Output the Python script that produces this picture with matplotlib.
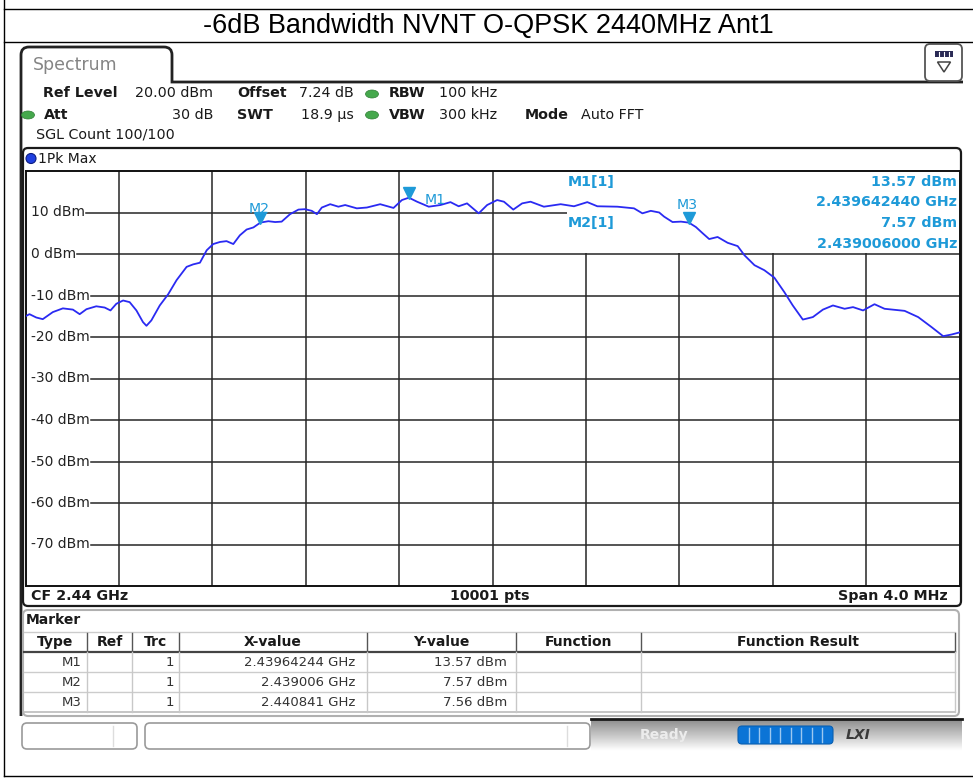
import matplotlib
matplotlib.use("Agg")
import matplotlib.pyplot as plt
import matplotlib.transforms as mtransforms
from matplotlib.patches import FancyBboxPatch, Ellipse, Circle, Rectangle, PathPatch, Polygon
from matplotlib.path import Path
import numpy as np

plt.rcParams["font.family"] = "DejaVu Sans"

W, H = 973, 782

TITLE = "-6dB Bandwidth NVNT O-QPSK 2440MHz Ant1"

# instrument settings
CF_MHZ = 2440.0
SPAN_MHZ = 4.0
REF_LEVEL = 20.0
DB_PER_DIV = 10
N_DIV = 10
N_POINTS = 10001

# 1Pk Max trace (MHz, dBm)
freq_mhz = [
    2438.000, 2438.017, 2438.046, 2438.074, 2438.117, 2438.160, 2438.203, 2438.232,
    2438.261, 2438.303, 2438.339, 2438.364, 2438.389, 2438.418, 2438.446, 2438.475,
    2438.503, 2438.518, 2438.539, 2438.575, 2438.611, 2438.647, 2438.690, 2438.718,
    2438.747, 2438.776, 2438.804, 2438.833, 2438.861, 2438.890, 2438.918, 2438.947,
    2438.976, 2439.006, 2439.040, 2439.069, 2439.097, 2439.133, 2439.169, 2439.197,
    2439.226, 2439.248, 2439.269, 2439.305, 2439.340, 2439.369, 2439.419, 2439.462,
    2439.519, 2439.576, 2439.612, 2439.642, 2439.677, 2439.727, 2439.777, 2439.820,
    2439.855, 2439.891, 2439.941, 2439.977, 2440.020, 2440.049, 2440.089, 2440.127,
    2440.163, 2440.220, 2440.292, 2440.349, 2440.406, 2440.449, 2440.535, 2440.606,
    2440.642, 2440.678, 2440.714, 2440.735, 2440.771, 2440.807, 2440.841, 2440.871,
    2440.900, 2440.928, 2440.964, 2441.007, 2441.050, 2441.079, 2441.122, 2441.164,
    2441.207, 2441.250, 2441.286, 2441.329, 2441.372, 2441.415, 2441.458, 2441.508,
    2441.544, 2441.587, 2441.636, 2441.679, 2441.765, 2441.823, 2441.880, 2441.930,
    2441.966, 2442.000,
]
level_dbm = [
    -15.0, -14.5, -15.3, -15.7, -14.0, -13.1, -13.4, -14.5,
    -13.3, -12.6, -12.9, -13.6, -12.0, -11.2, -11.6, -13.6,
    -16.4, -17.3, -16.0, -12.4, -9.7, -6.3, -3.1, -2.5,
    -2.1, 0.9, 2.4, 2.9, 3.1, 2.4, 4.5, 5.9,
    6.4, 7.57, 7.9, 7.7, 7.8, 9.6, 10.7, 10.8,
    10.4, 9.6, 11.2, 12.0, 11.4, 11.8, 11.0, 11.2,
    12.0, 11.1, 13.0, 13.57, 12.6, 11.4, 11.8, 12.5,
    11.5, 12.2, 9.8, 11.8, 13.0, 12.6, 10.7, 12.2,
    12.6, 11.4, 12.0, 11.5, 12.5, 11.5, 11.4, 11.0,
    9.8, 10.4, 10.0, 9.0, 7.7, 7.8, 7.56, 6.5,
    5.0, 3.6, 4.1, 2.7, 1.9, -0.3, -2.7, -3.9,
    -5.7, -9.2, -12.4, -15.8, -15.2, -13.4, -12.4, -13.2,
    -12.8, -13.6, -12.1, -13.2, -13.7, -15.2, -17.6, -19.8,
    -19.4, -18.9,
]

y_tick_levels = [10, 0, -10, -20, -30, -40, -50, -60, -70]
y_tick_labels = ["10 dBm", "0 dBm", "-10 dBm", "-20 dBm", "-30 dBm",
                 "-40 dBm", "-50 dBm", "-60 dBm", "-70 dBm"]

marker_names = ["M1", "M2", "M3"]
marker_freq_ghz = [2.43964244, 2.439006, 2.440841]
marker_level = [13.57, 7.57, 7.56]
marker_x_text = ["2.43964244 GHz", "2.439006 GHz", "2.440841 GHz"]
marker_y_text = ["13.57 dBm", "7.57 dBm", "7.56 dBm"]
marker_trc = ["1", "1", "1"]

table_headers = ["Type", "Ref", "Trc", "X-value", "Y-value", "Function", "Function Result"]

TRACE_BLUE = "#2a2af2"
MARK_BLUE = "#1e9ad8"
INK = "#1a1a1a"


def rbox(ax, x0, y0, x1, y1, r, **kw):
    p = FancyBboxPatch((x0 + r, y0 + r), x1 - x0 - 2 * r, y1 - y0 - 2 * r,
                       boxstyle=f"round,pad={r}", **kw)
    ax.add_patch(p)
    return p


fig = plt.figure(figsize=(W / 100, H / 100), dpi=100)
fig.patch.set_facecolor("white")

bg = fig.add_axes([0, 0, 1, 1])
bg.set_xlim(0, W)
bg.set_ylim(H, 0)
bg.axis("off")

# report table frame + title
bg.plot([4, W], [9, 9], color="black", lw=1)
bg.plot([4, W], [42, 42], color="black", lw=1)
bg.plot([4, W], [776, 776], color="black", lw=1)
bg.plot([4, 4], [0, 776], color="black", lw=1)
bg.text(488, 25.5, TITLE, ha="center", va="center", fontsize=19.5,
        family="Liberation Sans", color="black")

# spectrum tab
verts = [(21, 716), (21, 55), (21, 47), (29, 47), (164, 47), (172, 47),
         (172, 55), (172, 82), (963, 82)]
codes = [Path.MOVETO, Path.LINETO, Path.CURVE3, Path.CURVE3, Path.LINETO,
         Path.CURVE3, Path.CURVE3, Path.LINETO, Path.LINETO]
bg.add_patch(PathPatch(Path(verts, codes), facecolor="none", edgecolor="#222222", lw=2))
bg.text(33, 65, "Spectrum", ha="left", va="center", fontsize=12.5, color="#858585")

# little menu icon at the right
rbox(bg, 925, 44, 962, 81, 5, facecolor="white", edgecolor="#555555", lw=1.3)
bg.add_patch(Rectangle((935, 51), 18, 6, facecolor="#2a2a55", edgecolor="none"))
for xx in (939, 944, 949):
    bg.plot([xx, xx], [51.5, 56.5], color="white", lw=0.8)
bg.add_patch(Polygon([(937.5, 62), (950.5, 62), (944, 72)], closed=True,
                     facecolor="none", edgecolor="#444444", lw=1.1))

# settings header
HFS = 10.3
bg.text(43, 93, "Ref Level", fontsize=HFS, fontweight="bold", va="center", color=INK)
bg.text(213, 93, f"{REF_LEVEL:.2f} dBm", fontsize=HFS, va="center", ha="right", color=INK)
bg.text(237, 93, "Offset", fontsize=HFS, fontweight="bold", va="center", color=INK)
bg.text(299, 93, "7.24 dB", fontsize=HFS, va="center", color=INK)
bg.text(389, 93, "RBW", fontsize=HFS, fontweight="bold", va="center", color=INK)
bg.text(439, 93, "100 kHz", fontsize=HFS, va="center", color=INK)

bg.text(44, 115, "Att", fontsize=HFS, fontweight="bold", va="center", color=INK)
bg.text(213, 115, "30 dB", fontsize=HFS, va="center", ha="right", color=INK)
bg.text(237, 115, "SWT", fontsize=HFS, fontweight="bold", va="center", color=INK)
bg.text(301, 115, "18.9 µs", fontsize=HFS, va="center", color=INK)
bg.text(389, 115, "VBW", fontsize=HFS, fontweight="bold", va="center", color=INK)
bg.text(439, 115, "300 kHz", fontsize=HFS, va="center", color=INK)
bg.text(525, 115, "Mode", fontsize=HFS, fontweight="bold", va="center", color=INK)
bg.text(581, 115, "Auto FFT", fontsize=HFS, va="center", color=INK)
bg.text(36, 135, "SGL Count 100/100", fontsize=HFS, va="center", color=INK)

for cx, cy in [(372, 94), (28, 115), (372, 115)]:
    bg.add_patch(Ellipse((cx, cy), 13, 8, facecolor="#45a84c", edgecolor="#2f7d35", lw=0.5))

# trace window frame
rbox(bg, 23, 148, 961, 606, 5, facecolor="white", edgecolor="#1a1a1a", lw=1.6)
bg.add_patch(Circle((31, 158.5), 5, facecolor="#1f3fe0", edgecolor="#0b1c80", lw=0.8))
bg.text(38, 159, "1Pk Max", fontsize=10, va="center", color=INK)
bg.text(31, 596, f"CF {CF_MHZ / 1000:.2f} GHz", fontsize=10.3, fontweight="bold",
        va="center", color=INK)
bg.text(490, 596, f"{N_POINTS} pts", fontsize=10.3, fontweight="bold",
        va="center", ha="center", color=INK)
bg.text(948, 596, f"Span {SPAN_MHZ:.1f} MHz", fontsize=10.3, fontweight="bold",
        va="center", ha="right", color=INK)

# marker table
rbox(bg, 23, 610, 959, 716, 5, facecolor="white", edgecolor="#b0b0b0", lw=1.5)
bg.text(26, 620, "Marker", fontsize=10, fontweight="bold", va="center", color=INK)
col_edges = [24, 87, 132, 179, 367, 516, 641, 955]
bg.plot([col_edges[0], col_edges[-1]], [632, 632], color="#cccccc", lw=1)
bg.plot([col_edges[0], col_edges[-1]], [651.5, 651.5], color="#444444", lw=1.6)
for yy in (672, 692):
    bg.plot([col_edges[0], col_edges[-1]], [yy, yy], color="#cccccc", lw=1)
bg.plot([col_edges[0], col_edges[-1]], [712, 712], color="#bbbbbb", lw=1.2)
for xe in col_edges[1:]:
    bg.plot([xe, xe], [633, 651], color="#555555", lw=1)
    bg.plot([xe, xe], [652, 712], color="#c8c8c8", lw=1)
for i, name in enumerate(table_headers):
    xc = (col_edges[i] + col_edges[i + 1]) / 2
    bg.text(xc, 642, name, fontsize=10, fontweight="bold", ha="center", va="center", color=INK)
for r in range(len(marker_names)):
    yc = 662 + 20 * r
    bg.text(col_edges[1] - 5, yc, marker_names[r], fontsize=9.5, ha="right", va="center", color="#333333")
    bg.text(col_edges[3] - 5, yc, marker_trc[r], fontsize=9.5, ha="right", va="center", color="#333333")
    bg.text(col_edges[4] - 12, yc, marker_x_text[r], fontsize=9.5, ha="right", va="center", color="#333333")
    bg.text(col_edges[5] - 9, yc, marker_y_text[r], fontsize=9.5, ha="right", va="center", color="#333333")

# status bar
rbox(bg, 22, 723, 137, 749, 5, facecolor="white", edgecolor="#9a9a9a", lw=1.2)
bg.plot([113, 113], [726, 746], color="#dddddd", lw=1)
rbox(bg, 145, 723, 590, 749, 5, facecolor="white", edgecolor="#9a9a9a", lw=1.2)
bg.plot([567, 567], [726, 746], color="#dddddd", lw=1)
grad = np.linspace(0.55, 1.0, 40)[:, None]
bg.imshow(grad, extent=(591, 962, 751, 719.5), cmap="gray", vmin=0, vmax=1,
          aspect="auto", zorder=1)
bg.plot([591, 962], [719, 719], color="#1a1a1a", lw=2, zorder=2)
bg.text(640, 735, "Ready", fontsize=10, fontweight="bold", va="center", color="#ececec", zorder=3)
rbox(bg, 738, 726, 833, 744, 4, facecolor="#0b74d6", edgecolor="#0a5fb0", lw=0.8, zorder=3)
for xx in np.linspace(738, 833, 10)[1:-1]:
    bg.plot([xx, xx], [728, 742], color="#9cc8f0", lw=1, zorder=4)
bg.text(858, 735, "LXI", fontsize=10, fontweight="bold", style="italic", ha="center",
        va="center", color="#3a3a3a", zorder=3)
bg.set_xlim(0, W)
bg.set_ylim(H, 0)

# spectrum plot area
x0, x1 = 25.5, 959.5
y0, y1 = 171, 586
ax = fig.add_axes([x0 / W, 1 - y1 / H, (x1 - x0) / W, (y1 - y0) / H])
f_lo = CF_MHZ - SPAN_MHZ / 2
f_hi = CF_MHZ + SPAN_MHZ / 2
lvl_lo = REF_LEVEL - DB_PER_DIV * N_DIV
ax.set_xlim(f_lo, f_hi)
ax.set_ylim(lvl_lo, REF_LEVEL)
ax.set_xticks([])
ax.set_yticks([])
for sp in ax.spines.values():
    sp.set_color("#111111")
    sp.set_linewidth(1.4)

grid_c = "#262626"
for fx in np.linspace(f_lo, f_hi, N_DIV + 1)[1:-1]:
    ax.plot([fx, fx], [lvl_lo, REF_LEVEL], color=grid_c, lw=1.1, zorder=1)

# y labels sit inside the plot, grid line starts right after the text
mixed = mtransforms.blended_transform_factory(bg.transData, ax.transData)
lbls = []
for lvl, lab in zip(y_tick_levels, y_tick_labels):
    lbls.append(ax.text(31, lvl, lab, transform=mixed, fontsize=10, ha="left",
                        va="center", color="#222222", zorder=5))
renderer = fig.canvas.get_renderer()
inv = ax.transData.inverted()
for t, lvl in zip(lbls, y_tick_levels):
    bb = t.get_window_extent(renderer)
    x_start = inv.transform((bb.x1 + 1, bb.y0))[0]
    ax.plot([x_start, f_hi], [lvl, lvl], color=grid_c, lw=1.1, zorder=1)

# white marker-info field in the upper right
ax.add_patch(Rectangle((2440.32, 0.35), f_hi - 2440.32, REF_LEVEL - 0.35,
                       facecolor="white", edgecolor="none", zorder=2))

ax.plot(freq_mhz, level_dbm, color=TRACE_BLUE, lw=1.3, zorder=3)

tri_tr = mtransforms.offset_copy(ax.transData, fig=fig, y=3.2, units="points")
mk_mhz = [f * 1000 for f in marker_freq_ghz]
ax.plot(mk_mhz, marker_level, linestyle="none", marker="v", markersize=8.5,
        color=MARK_BLUE, transform=tri_tr, zorder=4)
label_offsets = {"M1": (11, -2, "left"), "M2": (-1, 10, "center"), "M3": (-1, 13, "center")}
for name, fx, lv in zip(marker_names, mk_mhz, marker_level):
    dx, dy, ha = label_offsets[name]
    ax.annotate(name, (fx, lv), xytext=(dx, dy), textcoords="offset points",
                fontsize=10.2, color=MARK_BLUE, ha=ha, va="center", zorder=4)

# marker readout
info_fs = 10.3
ax.text(568, 182, "M1[1]", transform=bg.transData, fontsize=info_fs, fontweight="bold",
        color=MARK_BLUE, va="center", zorder=5)
ax.text(568, 223, "M2[1]", transform=bg.transData, fontsize=info_fs, fontweight="bold",
        color=MARK_BLUE, va="center", zorder=5)
readout = [f"{marker_level[0]:.2f} dBm", f"{marker_freq_ghz[0]:.9f} GHz",
           f"{marker_level[1]:.2f} dBm", f"{marker_freq_ghz[1]:.9f} GHz"]
for k, s in enumerate(readout):
    ax.text(957, 182 + 20.5 * k, s, transform=bg.transData, fontsize=info_fs,
            fontweight="bold", color=MARK_BLUE, ha="right", va="center", zorder=5)

fig.savefig("out.png", dpi=100, facecolor="white")
